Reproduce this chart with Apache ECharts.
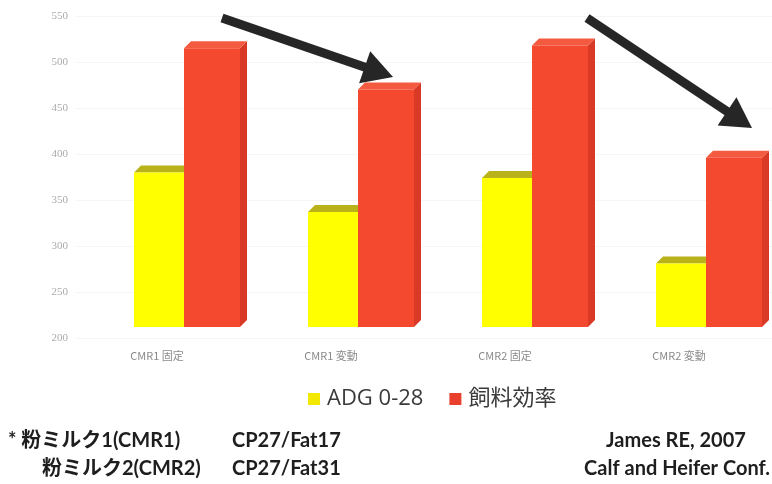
<!DOCTYPE html>
<html>
<head>
<meta charset="utf-8">
<script src="https://cdn.jsdelivr.net/npm/echarts@6/dist/echarts.min.js"></script>
<style>
html,body{margin:0;padding:0;background:#fff;}
#chart{width:772px;height:484px;}
</style>
</head>
<body>
<div id="chart"></div>
<script>
const categories = ['CMR1 固定', 'CMR1 変動', 'CMR2 固定', 'CMR2 変動'];
const adgValues = [380, 337, 374, 281];
const feedEffValues = [515, 470, 518, 396];
const seriesNames = ['ADG 0-28', '飼料効率'];
const yMin = 200, yMax = 550, yStep = 50;

const chart = echarts.init(document.getElementById('chart'));

const LIFT = 11, DEPTH = 7;
function boxRenderer(offsetL, width, front, top, side) {
  return function (params, api) {
    const i = api.value(0), v = api.value(1);
    const p = api.coord([i, v]);
    const b = api.coord([i, yMin]);
    const x0 = p[0] + offsetL, x1 = x0 + width;
    const yt = p[1], yb = b[1] - LIFT, d = DEPTH;
    return {
      type: 'group',
      children: [
        {type: 'polygon', shape: {points: [[x1, yt], [x1 + d, yt - d], [x1 + d, yb - d], [x1, yb]]}, style: {fill: side}},
        {type: 'polygon', shape: {points: [[x0, yt], [x0 + d, yt - d], [x1 + d, yt - d], [x1, yt]]}, style: {fill: top}},
        {type: 'rect', shape: {x: x0, y: yt, width: width, height: yb - yt}, style: {fill: front}}
      ]
    };
  };
}

function arrow(tail, tip, w, headLen, headW) {
  const dx = tip[0] - tail[0], dy = tip[1] - tail[1];
  const L = Math.sqrt(dx * dx + dy * dy);
  const ux = dx / L, uy = dy / L, nx = -uy, ny = ux;
  const bx = tip[0] - ux * headLen, by = tip[1] - uy * headLen;
  return [
    {type: 'line', shape: {x1: tail[0], y1: tail[1], x2: bx + ux * 2, y2: by + uy * 2},
     style: {stroke: '#262626', lineWidth: w}, z: 100},
    {type: 'polygon', shape: {points: [[tip[0], tip[1]], [bx + nx * headW / 2, by + ny * headW / 2], [bx - nx * headW / 2, by - ny * headW / 2]]},
     style: {fill: '#262626'}, z: 100}
  ];
}

const footFont = "Lato, 'Noto Sans CJK JP', sans-serif";
const footStyle = (x, y, text, align) => ({
  type: 'text', x: x, y: y,
  style: {text: text, fill: '#1e1e1e', font: "bold 20px " + footFont, textAlign: align || 'left', textVerticalAlign: 'middle'}
});

chart.setOption({
  animation: false,
  backgroundColor: '#ffffff',
  grid: {left: 76, top: 16, right: 0, height: 322, containLabel: false},
  legend: {
    data: seriesNames,
    left: 303, top: 383,
    icon: 'rect', itemWidth: 12, itemHeight: 12, itemGap: 26,
    textStyle: {fontSize: 22, color: '#3a3a3a', fontFamily: "'Open Sans', 'Noto Sans CJK JP', sans-serif", padding: [0, 0, 0, 2]}
  },
  xAxis: {
    type: 'category', data: categories,
    axisLine: {show: false}, axisTick: {show: false},
    axisLabel: {color: '#8a8a8a', fontSize: 11, margin: 12, padding: [0, 12, 0, 0], fontFamily: "'Noto Sans CJK JP', sans-serif"}
  },
  yAxis: {
    type: 'value', min: yMin, max: yMax, interval: yStep,
    axisLine: {show: false}, axisTick: {show: false},
    axisLabel: {color: '#ababab', fontSize: 11, margin: 8, fontFamily: "'Liberation Serif', serif"},
    splitLine: {lineStyle: {color: '#f5f5f5', width: 1}}
  },
  series: [
    {
      name: seriesNames[0], type: 'custom',
      itemStyle: {color: '#f2e800'},
      renderItem: boxRenderer(-29, 50, '#ffff00', '#b9b21a', '#e0d800'),
      encode: {x: 0, y: 1},
      data: adgValues.map((v, i) => [i, v])
    },
    {
      name: seriesNames[1], type: 'custom',
      itemStyle: {color: '#e8402d'},
      renderItem: boxRenderer(21, 56, '#f4492f', '#f45a40', '#d93a25'),
      encode: {x: 0, y: 1},
      data: feedEffValues.map((v, i) => [i, v])
    }
  ],
  graphic: [].concat(
    arrow([222, 18], [393, 77], 9, 30, 34),
    arrow([587, 18], [752, 128], 9, 30, 34),
    [
      footStyle(8, 441, '* 粉ミルク1(CMR1)'),
      footStyle(232, 441, 'CP27/Fat17'),
      footStyle(42, 469, '粉ミルク2(CMR2)'),
      footStyle(232, 469, 'CP27/Fat31'),
      footStyle(676, 441, 'James RE, 2007', 'center'),
      footStyle(770, 469, 'Calf and Heifer Conf.', 'right')
    ]
  )
});
</script>
</body>
</html>
